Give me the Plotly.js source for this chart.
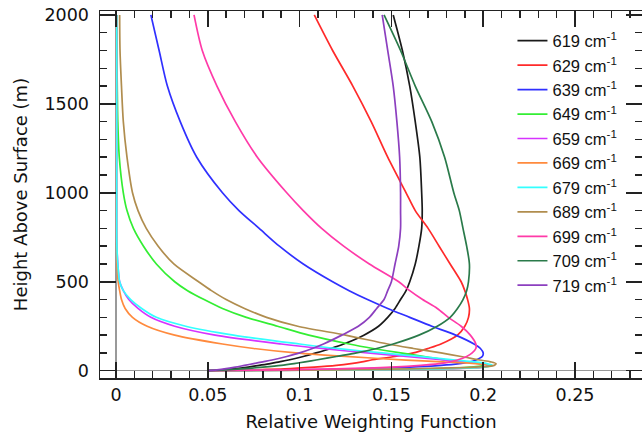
<!DOCTYPE html>
<html>
<head>
<meta charset="utf-8">
<script src="https://cdn.plot.ly/plotly-3.0.1.min.js"></script>
<style>html,body{margin:0;padding:0;background:#fff;}#chart{width:642px;height:443px;}</style>
</head>
<body>
<div id="chart"></div>
<script>
// Heights above surface (m)
const heights = [0, 5, 10, 20, 30, 40, 50, 60, 80, 100, 125, 150, 200, 250, 300, 350, 400, 450, 500, 600, 700, 800, 900, 1000, 1200, 1400, 1600, 1800, 2000];

// Relative weighting function per channel
const w619 = [0.05, 0.058, 0.064, 0.072, 0.078, 0.084, 0.089, 0.094, 0.102, 0.109, 0.117, 0.124, 0.135, 0.143, 0.148, 0.152, 0.155, 0.158, 0.160, 0.163, 0.165, 0.1665, 0.1668, 0.1665, 0.1655, 0.163, 0.160, 0.156, 0.151];
const w629 = [0.05, 0.075, 0.092, 0.108, 0.12, 0.128, 0.134, 0.139, 0.152, 0.162, 0.17, 0.177, 0.186, 0.19, 0.192, 0.1925, 0.1915, 0.19, 0.188, 0.182, 0.176, 0.17, 0.163, 0.158, 0.148, 0.139, 0.129, 0.118, 0.108];
const w639 = [0.05, 0.1, 0.13, 0.16, 0.177, 0.187, 0.193, 0.196, 0.1995, 0.2, 0.1985, 0.195, 0.185, 0.172, 0.16, 0.148, 0.137, 0.127, 0.118, 0.102, 0.089, 0.078, 0.067, 0.058, 0.044, 0.035, 0.028, 0.0235, 0.019];
const w649 = [0.05, 0.13, 0.17, 0.193, 0.2, 0.198, 0.19, 0.18, 0.168, 0.155, 0.14, 0.127, 0.105, 0.088, 0.071, 0.058, 0.048, 0.039, 0.032, 0.022, 0.015, 0.0095, 0.006, 0.004, 0.0018, 0.001, 0.0007, 0.0005, 0.0005];
const w659 = [0.05, 0.13, 0.175, 0.2, 0.203, 0.198, 0.19, 0.18, 0.158, 0.137, 0.112, 0.09, 0.054, 0.032, 0.019, 0.012, 0.007, 0.004, 0.002, 0.001, 0.0005, 0.0004, 0.0004, 0.0004, 0.0004, 0.0004, 0.0004, 0.0004, 0.0004];
const w669 = [0.05, 0.13, 0.175, 0.2, 0.205, 0.196, 0.178, 0.158, 0.125, 0.098, 0.075, 0.058, 0.032, 0.017, 0.009, 0.005, 0.003, 0.002, 0.0012, 0.0006, 0.0004, 0.0003, 0.0003, 0.0003, 0.0003, 0.0003, 0.0003, 0.0003, 0.0003];
const w679 = [0.05, 0.13, 0.175, 0.2, 0.205, 0.202, 0.195, 0.185, 0.165, 0.145, 0.12, 0.1, 0.064, 0.038, 0.022, 0.014, 0.008, 0.004, 0.002, 0.001, 0.0005, 0.0004, 0.0004, 0.0004, 0.0004, 0.0004, 0.0004, 0.0004, 0.0004];
const w689 = [0.05, 0.12, 0.16, 0.195, 0.206, 0.207, 0.204, 0.198, 0.188, 0.177, 0.162, 0.148, 0.125, 0.099, 0.082, 0.07, 0.06, 0.052, 0.045, 0.0315, 0.023, 0.0165, 0.012, 0.009, 0.006, 0.004, 0.003, 0.0022, 0.002];
const w699 = [0.05, 0.09, 0.12, 0.15, 0.166, 0.176, 0.182, 0.186, 0.191, 0.194, 0.196, 0.196, 0.193, 0.188, 0.181, 0.175, 0.167, 0.16, 0.154, 0.138, 0.124, 0.112, 0.102, 0.093, 0.077, 0.065, 0.055, 0.047, 0.0425];
const w709 = [0.05, 0.06, 0.068, 0.08, 0.09, 0.097, 0.103, 0.109, 0.12, 0.131, 0.142, 0.151, 0.165, 0.175, 0.182, 0.186, 0.189, 0.191, 0.192, 0.1925, 0.191, 0.189, 0.187, 0.184, 0.179, 0.172, 0.163, 0.155, 0.146];
const w719 = [0.05, 0.055, 0.059, 0.065, 0.07, 0.075, 0.08, 0.085, 0.093, 0.1, 0.107, 0.113, 0.123, 0.132, 0.138, 0.142, 0.146, 0.148, 0.150, 0.152, 0.154, 0.155, 0.155, 0.155, 0.1545, 0.153, 0.151, 0.148, 0.145];

const channels = ['619', '629', '639', '649', '659', '669', '679', '689', '699', '709', '719'];
const series = [w619, w629, w639, w649, w659, w669, w679, w689, w699, w709, w719];
const colors = ['#1a1a1a', '#ff2a2a', '#3030ff', '#33ee33', '#d633ff', '#ff8a3d', '#33ffff', '#b08d4e', '#ff3aa8', '#2a7a4a', '#8c3fbf'];

const traces = channels.map((c, i) => ({
  type: 'scatter',
  mode: 'lines',
  x: series[i],
  y: heights,
  name: c + ' cm<sup>-1</sup>',
  line: {color: colors[i], width: 1.7, shape: 'spline', smoothing: 0.8}
}));

const tickFont = {family: 'DejaVu Sans, sans-serif', size: 17.5, color: '#111'};
const titleFont = {family: 'DejaVu Sans, sans-serif', size: 18, color: '#111'};

const axisCommon = {
  showline: true, linecolor: '#222', linewidth: 1.5, mirror: 'allticks',
  ticks: 'inside', ticklen: 16, tickwidth: 1.5, tickcolor: '#222',
  showgrid: false,
  tickfont: tickFont,
  zeroline: true, zerolinecolor: '#999', zerolinewidth: 1.5
};

const layout = {
  width: 642, height: 443,
  margin: {l: 100, r: 0, t: 11, b: 65},
  paper_bgcolor: '#fff', plot_bgcolor: '#fff',
  font: {family: 'DejaVu Sans, sans-serif', size: 16, color: '#111'},
  showlegend: true,
  legend: {x: 0.761, y: 0.966, xanchor: 'left', yanchor: 'top', bgcolor: 'rgba(0,0,0,0)', borderwidth: 0,
           font: {family: 'Liberation Sans, Arial, sans-serif', size: 16.5, color: '#111'}},
  xaxis: Object.assign({}, axisCommon, {
    range: [-0.0087, 0.2865], dtick: 0.05, tick0: 0,
    minor: {ticks: 'inside', ticklen: 7, dtick: 0.01, tickwidth: 1.5, tickcolor: '#222'},
    title: {text: 'Relative Weighting Function', font: titleFont, standoff: 12}
  }),
  yaxis: Object.assign({}, axisCommon, {
    range: [-41, 2022], dtick: 500, tick0: 0, ticklabelstandoff: 6,
    minor: {ticks: 'inside', ticklen: 7, dtick: 100, tickwidth: 1.5, tickcolor: '#222'},
    title: {text: 'Height Above Surface (m)', font: titleFont, standoff: 12}
  })
};

Plotly.newPlot('chart', traces, layout, {displayModeBar: false, staticPlot: true});
</script>
</body>
</html>
